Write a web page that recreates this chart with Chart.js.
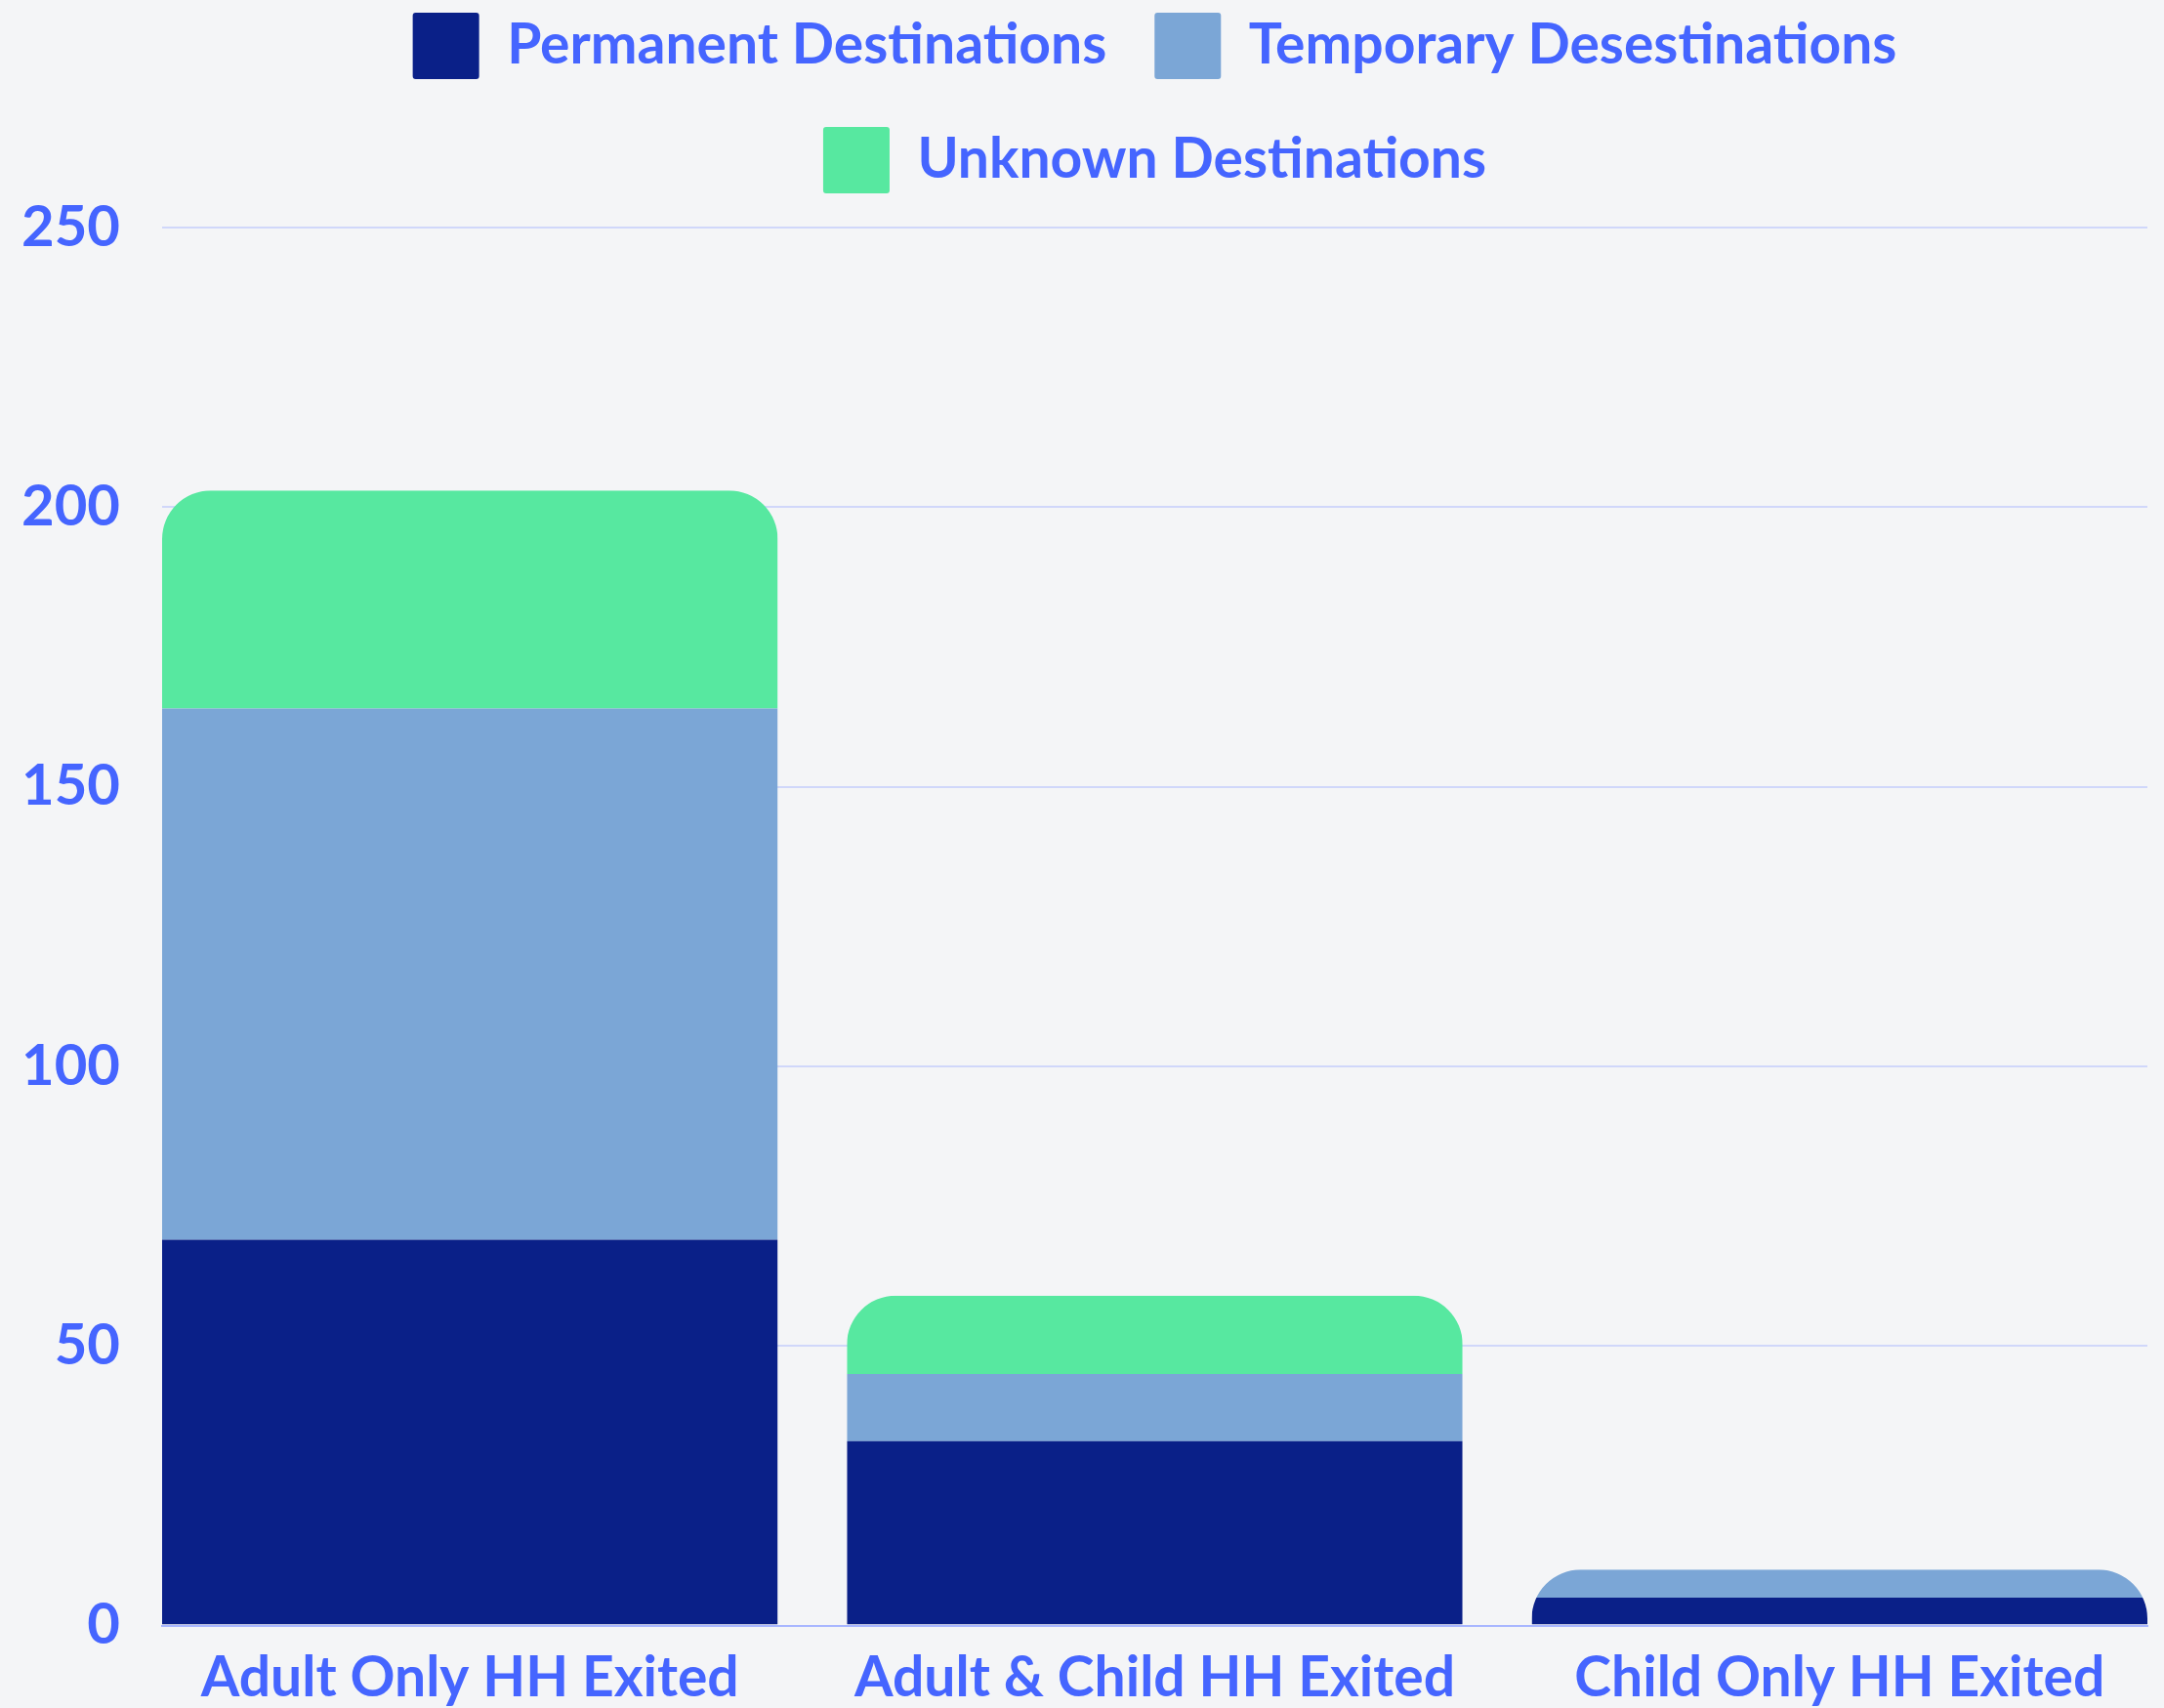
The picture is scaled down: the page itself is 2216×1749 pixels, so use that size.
<!DOCTYPE html>
<html>
<head>
<meta charset="utf-8">
<script src="https://cdn.jsdelivr.net/npm/chart.js@4.4.1/dist/chart.umd.min.js"></script>
<style>
  html, body { margin: 0; padding: 0; background: #f4f5f7; }
  #wrap { width: 2216px; height: 1749px; }
</style>
</head>
<body>
<div id="wrap"><canvas id="chart"></canvas></div>
<script>
const categories = ["Adult Only HH Exited", "Adult & Child HH Exited", "Child Only HH Exited"];
const seriesNames = ["Permanent Destinations", "Temporary Desestinations", "Unknown Destinations"];
const permanent = [69, 33, 5];
const temporary = [95, 12, 5];
const unknown = [39, 14, 0];
const yTicks = [0, 50, 100, 150, 200, 250];

const textColor = "#4565ff";

const toPoints = (arr) => arr.map((v, i) => ({ x: i, y: v }));

// rounds the top of each whole stack, not each segment
const roundTops = {
  id: "roundTops",
  beforeDatasetsDraw(chart) {
    const ctx = chart.ctx;
    const metas = chart.getSortedVisibleDatasetMetas();
    ctx.save();
    ctx.beginPath();
    for (let i = 0; i < categories.length; i++) {
      let top = Infinity, bottom = -Infinity, left = 0, width = 0;
      metas.forEach((m) => {
        const el = m.data[i];
        if (!el) return;
        top = Math.min(top, el.y, el.base);
        bottom = Math.max(bottom, el.y, el.base);
        left = el.x - el.width / 2;
        width = el.width;
      });
      ctx.roundRect(left, top, width, bottom - top, [50, 50, 0, 0]);
    }
    ctx.clip();
  },
  afterDatasetsDraw(chart) {
    chart.ctx.restore();
  },
};

const ctx = document.getElementById("chart").getContext("2d");
const chart = new Chart(ctx, {
  type: "bar",
  data: {
    datasets: [
      { label: seriesNames[0], data: toPoints(permanent), backgroundColor: "#0a2088" },
      { label: seriesNames[1], data: toPoints(temporary), backgroundColor: "#7ba6d6" },
      { label: seriesNames[2], data: toPoints(unknown), backgroundColor: "#57e8a0" },
    ],
  },
  options: {
    responsive: true,
    maintainAspectRatio: false,
    animation: false,
    categoryPercentage: 1,
    barPercentage: 0.899,
    borderWidth: 0,
    layout: { padding: { top: -36, left: 0, right: 17, bottom: -16 } },
    plugins: {
      legend: {
        position: "top",
        fullSize: false,
        labels: {
          boxWidth: 68,
          boxHeight: 68,
          padding: 49,
          useBorderRadius: true,
          borderRadius: 3,
          color: textColor,
          font: { family: "Lato", weight: "bold", size: 57 },
        },
      },
      title: {
        display: true,
        text: "",
        weight: 500,
        fullSize: false,
        padding: 0,
        font: { size: 25, lineHeight: 1 },
      },
      tooltip: { enabled: false },
    },
    scales: {
      x: {
        type: "linear",
        min: -0.4495,
        max: 2.4495,
        stacked: true,
        offset: false,
        grid: { display: false },
        border: { display: true, color: "#a8b6ff", width: 2 },
        afterBuildTicks: (scale) => {
          scale.ticks = categories.map((c, i) => ({ value: i }));
        },
        ticks: {
          autoSkip: false,
          maxRotation: 0,
          padding: 12,
          color: textColor,
          font: { family: "Lato", weight: "bold", size: 57 },
          callback: (v) => categories[v],
        },
      },
      y: {
        stacked: true,
        min: 0,
        max: 250,
        afterBuildTicks: (scale) => {
          scale.ticks = yTicks.map((v) => ({ value: v }));
        },
        afterFit: (scale) => {
          scale.width = 166;
        },
        grid: { color: "#d0d7fa", lineWidth: 2, drawTicks: false },
        border: { display: false },
        ticks: {
          padding: 43,
          color: textColor,
          font: { family: "Lato", weight: "bold", size: 58 },
        },
      },
    },
  },
  plugins: [roundTops],
});
</script>
</body>
</html>
